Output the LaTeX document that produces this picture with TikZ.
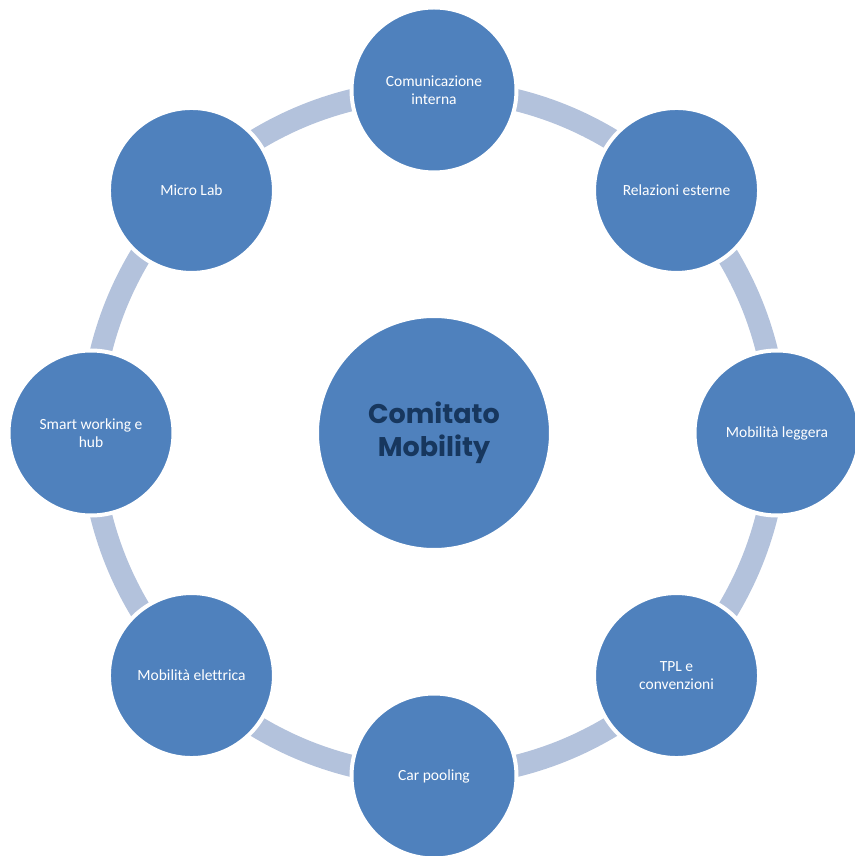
\documentclass[tikz,border=0pt]{standalone}
\usepackage{fontspec}
\setmainfont{Carlito}[Ligatures={NoCommon}]
\newfontfamily\titlefont{Poppins}
\usetikzlibrary{backgrounds}
\definecolor{circblue}{HTML}{4F81BD}
\definecolor{ringblue}{HTML}{B3C2DC}
\definecolor{titleblue}{HTML}{17375E}
\begin{document}
\begin{tikzpicture}
[x=1pt,y=1pt,
 item/.style={circle,fill=circblue,draw=white,line width=4pt,minimum size=165pt,
   inner sep=0pt,align=center,text=white,font=\fontsize{15.5}{18.5}\selectfont},
 hub/.style={item,minimum size=234pt,text=titleblue,
   font=\titlefont\bfseries\fontsize{27}{33}\selectfont},
 link/.style={ringblue,line width=22pt}]
\useasboundingbox (-434,-423) rectangle (420,433);

\node[hub] (C) at (0,0) {Comitato\\Mobility};

\node[item] (n1) at (90:343) {Comunicazione\\interna};
\node[item] (n2) at (45:343) {Relazioni esterne};
\node[item] (n3) at (0:343) {Mobilità leggera};
\node[item] (n4) at (-45:343) {TPL e\\convenzioni};
\node[item] (n5) at (-90:343) {Car pooling};
\node[item] (n6) at (-135:343) {Mobilità elettrica};
\node[item] (n7) at (180:343) {Smart working e\\hub};
\node[item] (n8) at (135:343) {Micro Lab};

% ring between the circles
\begin{scope}[on background layer]
\foreach \i/\j in {1/2,2/3,3/4,4/5,5/6,6/7,7/8,8/1}
  \draw[link] (n\i.center) to[bend left=22.5,looseness=0.885] (n\j.center);
\end{scope}
\end{tikzpicture}
\end{document}
